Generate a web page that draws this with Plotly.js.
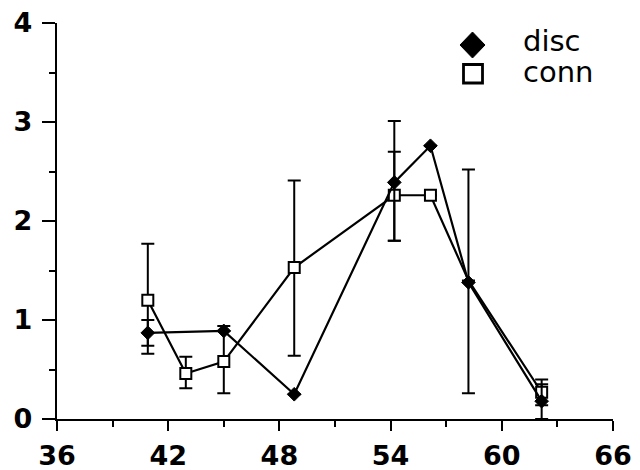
<!DOCTYPE html>
<html><head><meta charset="utf-8">
<script src="https://cdn.plot.ly/plotly-3.0.1.min.js"></script>
<style>html,body{margin:0;padding:0;background:#fff}#chart{width:640px;height:470px}</style>
</head><body><div id="chart"></div>
<script>
const discX = [40.9, 45.0, 48.8, 54.2, 56.15, 58.2, 62.15];
const discY = [0.87, 0.89, 0.25, 2.39, 2.76, 1.38, 0.18];
const discErrPlus = [0.13, null, null, 0.62, null, 1.14, 0.17];
const discErrMinus = [0.13, null, null, 0.59, null, 1.12, 0.18];
const connX = [40.9, 42.95, 45.0, 48.8, 54.2, 56.15, 58.2, 62.15];
const connY = [1.20, 0.46, 0.58, 1.53, 2.26, 2.26, 1.40, 0.27];
const connErrPlus = [0.57, 0.17, 0.36, 0.88, 0.44, null, null, 0.13];
const connErrMinus = [0.54, 0.15, 0.32, 0.89, 0.46, null, null, 0.13];
const xTicks = [36, 42, 48, 54, 60, 66];
const yTicks = [0, 1, 2, 3, 4];
const seriesNames = ['disc', 'conn'];

// conn point hidden beneath the disc diamond where both coincide
const connSizes = connX.map(x => x === 58.2 ? 0 : 11);

const conn = {
  name: seriesNames[1], x: connX, y: connY, type: 'scatter', mode: 'lines+markers',
  showlegend: false,
  line: {color: '#000', width: 2.2},
  marker: {symbol: 'square', size: connSizes, color: '#ffffff', opacity: 1, line: {color: '#000', width: 2}},
  error_y: {type: 'data', symmetric: false, array: connErrPlus, arrayminus: connErrMinus,
            color: '#000', thickness: 2, width: 6.5}
};
const disc = {
  name: seriesNames[0], x: discX, y: discY, type: 'scatter', mode: 'lines+markers',
  showlegend: false,
  line: {color: '#000', width: 2.2},
  marker: {symbol: 'diamond', size: 10.5, color: '#000', line: {color: '#000', width: 1}},
  error_y: {type: 'data', symmetric: false, array: discErrPlus, arrayminus: discErrMinus,
            color: '#000', thickness: 2, width: 6.5}
};

// Legend keys (layout decoration, paper coordinates)
const px = v => (v - 57) / 556;   // page x -> paper x
const py = v => (419 - v) / 396;  // page y -> paper y
const shapes = [
  {type: 'path', xref: 'paper', yref: 'paper',
   path: `M ${px(460)},${py(45)} L ${px(472.5)},${py(32)} L ${px(485)},${py(45)} L ${px(472.5)},${py(58)} Z`,
   fillcolor: '#000', line: {color: '#000', width: 1}},
  {type: 'rect', xref: 'paper', yref: 'paper',
   x0: px(463.5), x1: px(482.5), y0: py(83), y1: py(64.5),
   fillcolor: '#fff', line: {color: '#000', width: 2.8}}
];
const legendFont = {family: 'DejaVu Sans', size: 29, color: '#000'};
const annotations = [
  {xref: 'paper', yref: 'paper', x: px(521), y: py(41), xanchor: 'left', yanchor: 'middle',
   text: seriesNames[0], showarrow: false, font: legendFont},
  {xref: 'paper', yref: 'paper', x: px(521), y: py(72), xanchor: 'left', yanchor: 'middle',
   text: seriesNames[1], showarrow: false, font: legendFont}
];

const tickFont = {family: 'DejaVu Sans', size: 27, color: '#000', weight: 'bold'};
const layout = {
  width: 640, height: 470,
  margin: {l: 57, r: 27, t: 23, b: 51},
  paper_bgcolor: '#fff', plot_bgcolor: '#fff',
  showlegend: false,
  shapes: shapes, annotations: annotations,
  xaxis: {range: [36, 66], tickvals: xTicks, ticktext: xTicks.map(String),
          showgrid: false, zeroline: false, showline: true, linecolor: '#000', linewidth: 2.2,
          ticks: 'outside', ticklen: 10, tickwidth: 2, tickcolor: '#000',
          minor: {dtick: 3, tick0: 36, ticks: 'outside', ticklen: 6, tickwidth: 2, tickcolor: '#000'},
          tickfont: tickFont, ticklabelstandoff: 1, fixedrange: true},
  yaxis: {range: [0, 4], tickvals: yTicks, ticktext: yTicks.map(String),
          showgrid: false, zeroline: false, showline: true, linecolor: '#000', linewidth: 2.2,
          ticks: 'outside', ticklen: 13, tickwidth: 2, tickcolor: '#000',
          minor: {dtick: 0.5, tick0: 0, ticks: 'outside', ticklen: 6, tickwidth: 2, tickcolor: '#000'},
          tickfont: tickFont, ticklabelstandoff: 4, fixedrange: true}
};
Plotly.newPlot('chart', [conn, disc], layout, {displayModeBar: false, staticPlot: true});
</script></body></html>
